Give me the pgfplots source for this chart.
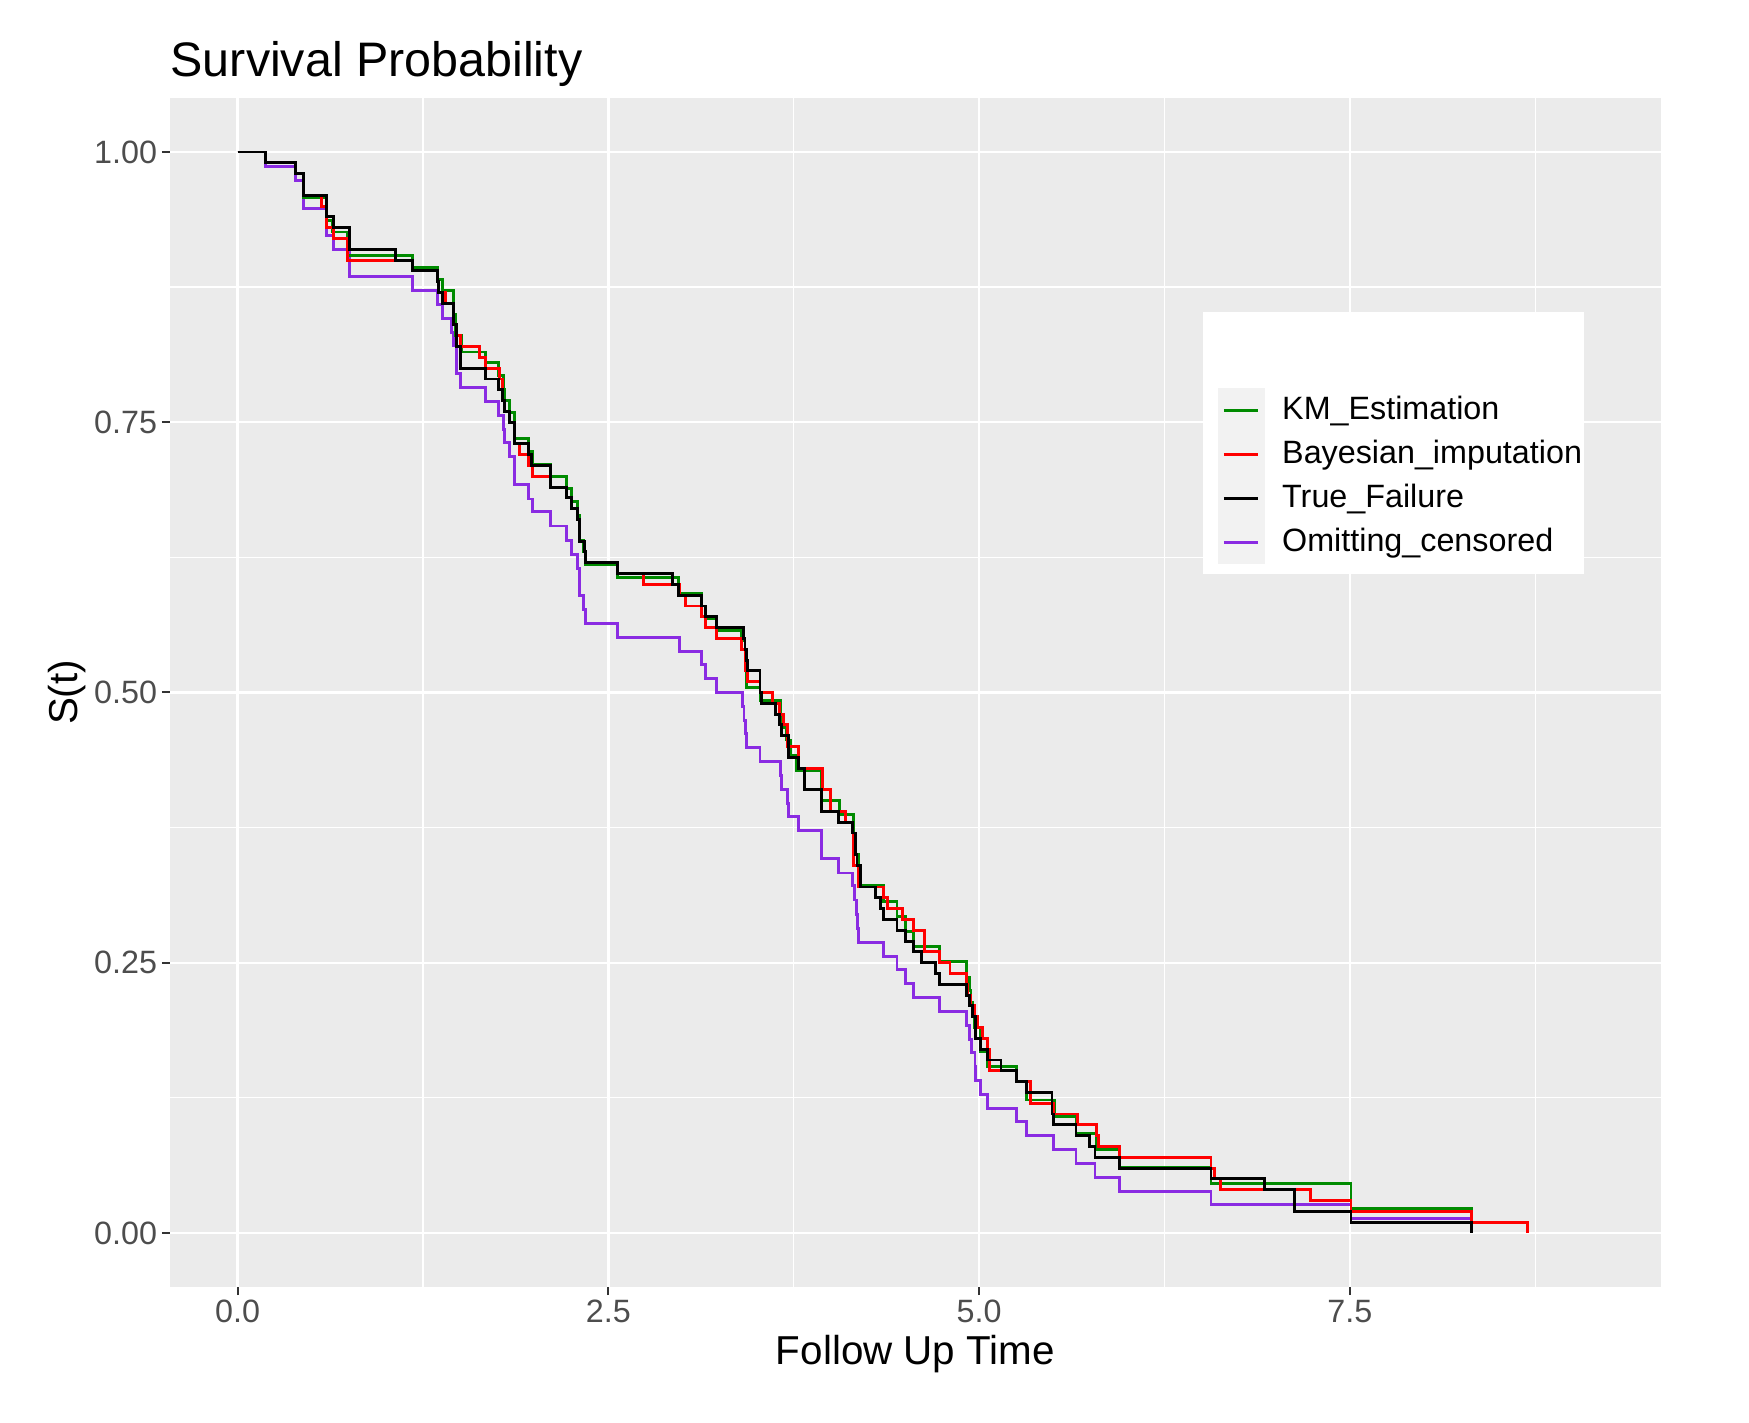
\documentclass[border=0pt]{standalone}
\usepackage{pgfplots}
\pgfplotsset{compat=1.18}
\usepackage{fontspec}
\setmainfont{Liberation Sans}

\definecolor{panelbg}{HTML}{EBEBEB}
\definecolor{keybg}{HTML}{F2F2F2}
\definecolor{tickgrey}{HTML}{333333}
\definecolor{labgrey}{HTML}{4D4D4D}
\definecolor{kmgreen}{HTML}{008B00}
\definecolor{omitpurple}{HTML}{8A2BE2}

\begin{document}
\begin{tikzpicture}
\begin{axis}[
    name=ax,
    scale only axis,
    width=406.3pt, height=324.0pt,
    xmin=-0.457, xmax=9.597,
    ymin=-0.05, ymax=1.05,
    axis background/.style={fill=panelbg},
    axis line style={draw=none},
    xtick={0,2.5,5,7.5},
    ytick={0,0.25,0.5,0.75,1},
    minor xtick={1.25,3.75,6.25,8.75},
    minor ytick={0.125,0.375,0.625,0.875},
    grid=both,
    major grid style={white, line width=0.65pt},
    minor grid style={white, line width=0.35pt},
    tick pos=left,
    tick align=outside,
    major tick length=2.2pt,
    minor tick length=0pt,
    tick style={tickgrey, line width=0.55pt},
    /pgf/number format/assume math mode=true,
    ticklabel style={font=\fontsize{8.8}{10}\selectfont, text=labgrey, inner sep=0pt},
    xticklabel shift=1.1pt,
    yticklabel shift=1.1pt,
    x tick label style={/pgf/number format/.cd, fixed, fixed zerofill, precision=1},
    y tick label style={/pgf/number format/.cd, fixed, fixed zerofill, precision=2},
    title={Survival Probability},
    title style={at={(axis description cs:0,1.0179)}, anchor=base west, inner sep=0pt,
        yshift=-6pt, font=\fontsize{13.2}{15}\selectfont},
    xlabel={Follow Up Time},
    xlabel style={at={(axis description cs:0.5,-0.0656)}, anchor=base, inner sep=0pt,
        font=\fontsize{11}{13}\selectfont},
    ylabel={S(t)},
    ylabel style={at={(axis description cs:-0.0617,0.5)}, anchor=base, inner sep=0pt,
        font=\fontsize{11}{13}\selectfont},
    legend cell align=left,
    legend style={at={(axis description cs:0.7022,0.7565)}, anchor=north west,
        draw=none, fill=none, inner sep=0pt, row sep=0pt,
        font=\fontsize{8.8}{10}\selectfont, nodes={inner sep=0pt},
        /tikz/every odd column/.append style={column sep=4.8pt}},
    legend image code/.code={
        \fill[keybg] (0pt,-5.6pt) rectangle (12pt,5.6pt);
        \draw[line width=0.8pt] (1.3pt,0pt) -- (10.7pt,0pt);
    },
]

% legend box
\fill[white] (axis description cs:0.6928,0.5997) rectangle (axis description cs:0.9484,0.82);

% Omitting_censored (drawn first, listed last)
\addplot[const plot, omitpurple, line width=0.8pt, forget plot] coordinates {
    (0,1.000) (0.187,0.987) (0.387,0.974) (0.444,0.948) (0.597,0.923)
    (0.649,0.910) (0.752,0.885) (1.176,0.872) (1.345,0.859) (1.378,0.846)
    (1.440,0.833) (1.453,0.821) (1.475,0.795) (1.505,0.782) (1.671,0.769)
    (1.761,0.756) (1.790,0.743) (1.797,0.731) (1.835,0.718) (1.865,0.705)
    (1.869,0.692) (1.964,0.679) (1.986,0.667) (2.110,0.654) (2.218,0.641)
    (2.252,0.628) (2.293,0.615) (2.302,0.603) (2.308,0.590) (2.331,0.577)
    (2.347,0.564) (2.561,0.551) (2.979,0.538) (3.126,0.526) (3.157,0.513)
    (3.229,0.500) (3.405,0.487) (3.414,0.474) (3.425,0.462) (3.432,0.449)
    (3.522,0.436) (3.658,0.423) (3.669,0.410) (3.707,0.397) (3.714,0.385)
    (3.781,0.372) (3.939,0.346) (4.052,0.333) (4.148,0.321) (4.157,0.308)
    (4.171,0.295) (4.182,0.282) (4.187,0.269) (4.355,0.256) (4.446,0.244)
    (4.502,0.231) (4.558,0.218) (4.731,0.205) (4.915,0.192) (4.933,0.179)
    (4.951,0.167) (4.972,0.154) (4.978,0.141) (5.012,0.128) (5.053,0.115)
    (5.253,0.103) (5.316,0.090) (5.502,0.077) (5.653,0.064) (5.781,0.051)
    (5.949,0.038) (6.563,0.026) (7.507,0.013) (8.321,0.013)
};

% KM_Estimation
\addplot[const plot, kmgreen, line width=0.8pt] coordinates {
    (0,1.000) (0.187,0.990) (0.387,0.980) (0.444,0.958) (0.597,0.937)
    (0.642,0.926) (0.743,0.904) (1.176,0.893) (1.345,0.882) (1.378,0.872)
    (1.457,0.850) (1.470,0.830) (1.509,0.815) (1.673,0.805) (1.761,0.793)
    (1.790,0.780) (1.801,0.770) (1.835,0.759) (1.869,0.735) (1.964,0.723)
    (1.986,0.711) (2.110,0.700) (2.218,0.689) (2.252,0.677) (2.293,0.664)
    (2.308,0.641) (2.331,0.630) (2.347,0.618) (2.561,0.606) (2.973,0.592)
    (3.126,0.580) (3.157,0.568) (3.229,0.557) (3.398,0.548) (3.421,0.530)
    (3.432,0.505) (3.522,0.493) (3.658,0.480) (3.669,0.468) (3.703,0.456)
    (3.730,0.442) (3.770,0.428) (3.939,0.400) (4.058,0.387) (4.153,0.366)
    (4.164,0.350) (4.187,0.321) (4.355,0.307) (4.446,0.293) (4.502,0.279)
    (4.558,0.265) (4.731,0.251) (4.915,0.236) (4.933,0.224) (4.945,0.213)
    (4.956,0.202) (4.967,0.190) (5.012,0.168) (5.053,0.154) (5.253,0.140)
    (5.316,0.123) (5.507,0.108) (5.653,0.092) (5.788,0.077) (5.949,0.061)
    (6.563,0.046) (7.507,0.023) (8.321,0.012)
};
\addlegendentry{\raisebox{0pt}[6.3pt][0pt]{KM\_Estimation}}

% Bayesian_imputation
\addplot[const plot, red, line width=0.8pt] coordinates {
    (0,1.00) (0.187,0.99) (0.387,0.98) (0.444,0.96) (0.568,0.95)
    (0.597,0.93) (0.649,0.92) (0.743,0.90) (1.176,0.89) (1.345,0.88)
    (1.356,0.87) (1.400,0.86) (1.453,0.84) (1.475,0.83) (1.505,0.82)
    (1.633,0.81) (1.673,0.80) (1.768,0.79) (1.784,0.77) (1.801,0.76)
    (1.835,0.75) (1.869,0.73) (1.903,0.72) (1.964,0.71) (1.986,0.70)
    (2.110,0.69) (2.218,0.68) (2.252,0.67) (2.293,0.66) (2.308,0.64)
    (2.340,0.63) (2.347,0.62) (2.561,0.61) (2.736,0.60) (2.980,0.59)
    (3.020,0.58) (3.128,0.57) (3.157,0.56) (3.229,0.55) (3.398,0.54)
    (3.421,0.52) (3.440,0.51) (3.522,0.50) (3.608,0.49) (3.653,0.48)
    (3.680,0.47) (3.707,0.45) (3.781,0.43) (3.944,0.41) (3.995,0.39)
    (4.097,0.38) (4.148,0.37) (4.153,0.34) (4.187,0.32) (4.355,0.31)
    (4.380,0.30) (4.484,0.29) (4.558,0.28) (4.630,0.26) (4.731,0.25)
    (4.803,0.24) (4.915,0.23) (4.922,0.22) (4.945,0.21) (4.972,0.20)
    (4.990,0.19) (5.023,0.18) (5.057,0.17) (5.068,0.15) (5.253,0.14)
    (5.349,0.12) (5.502,0.11) (5.660,0.10) (5.788,0.09) (5.803,0.08)
    (5.949,0.07) (6.563,0.06) (6.586,0.05) (6.626,0.04) (7.233,0.03)
    (7.507,0.02) (8.321,0.01) (8.698,0.00)
};
\addlegendentry{\raisebox{0pt}[6.3pt][0pt]{Bayesian\_imputation}}

% True_Failure
\addplot[const plot, black, line width=0.8pt] coordinates {
    (0,1.00) (0.187,0.99) (0.387,0.98) (0.444,0.96) (0.597,0.94)
    (0.649,0.93) (0.752,0.91) (1.063,0.90) (1.176,0.89) (1.345,0.88)
    (1.356,0.87) (1.378,0.86) (1.453,0.84) (1.475,0.82) (1.505,0.80)
    (1.671,0.79) (1.761,0.78) (1.784,0.77) (1.801,0.76) (1.835,0.75)
    (1.865,0.73) (1.964,0.72) (1.982,0.71) (2.110,0.69) (2.218,0.68)
    (2.252,0.67) (2.293,0.66) (2.308,0.64) (2.340,0.63) (2.347,0.62)
    (2.561,0.61) (2.934,0.60) (2.973,0.59) (3.126,0.58) (3.157,0.57)
    (3.229,0.56) (3.410,0.55) (3.421,0.54) (3.432,0.53) (3.439,0.52)
    (3.522,0.50) (3.534,0.49) (3.628,0.48) (3.653,0.47) (3.669,0.46)
    (3.714,0.44) (3.781,0.43) (3.820,0.41) (3.939,0.39) (4.052,0.38)
    (4.148,0.37) (4.164,0.35) (4.176,0.34) (4.198,0.32) (4.300,0.31)
    (4.335,0.30) (4.355,0.29) (4.446,0.28) (4.502,0.27) (4.558,0.26)
    (4.608,0.25) (4.704,0.24) (4.731,0.23) (4.915,0.22) (4.933,0.21)
    (4.956,0.20) (4.978,0.18) (5.012,0.17) (5.053,0.16) (5.147,0.15)
    (5.253,0.14) (5.316,0.13) (5.491,0.11) (5.502,0.10) (5.653,0.09)
    (5.743,0.08) (5.781,0.07) (5.949,0.06) (6.563,0.05) (6.927,0.04)
    (7.125,0.02) (7.507,0.01) (8.321,0.00)
};
\addlegendentry{\raisebox{0pt}[6.3pt][0pt]{True\_Failure}}

\addlegendimage{omitpurple, line width=0.8pt}
\addlegendentry{\raisebox{0pt}[6.3pt][0pt]{Omitting\_censored}}

\end{axis}
\path ([xshift=-46.3pt,yshift=-36.8pt]ax.south west) rectangle ([xshift=24pt,yshift=26.7pt]ax.north east);
\end{tikzpicture}
\end{document}
